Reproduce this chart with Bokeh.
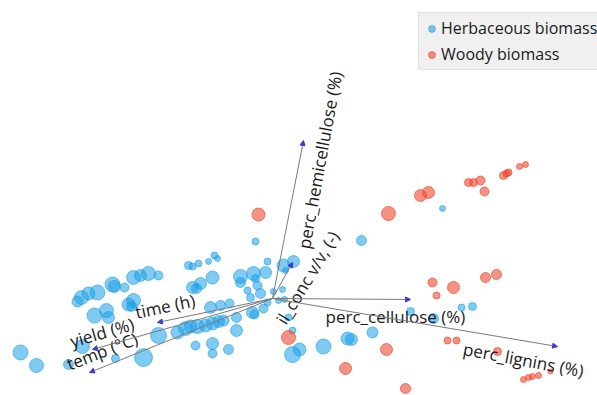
from bokeh.plotting import figure
from bokeh.models import ColumnDataSource, Range1d, Arrow, NormalHead
from bokeh.core.properties import value
from bokeh.embed import file_html
from bokeh.resources import INLINE

# ---------------- data (PCA scores) ----------------
herb_pc1 = [-12.6, -11.8, -10.2, -9.5, -7.85, -6.45, -5.7, -4.75, -4.35, -4.1, -3.75, -3.35,
            -3.0, -2.7, -2.45, -3.85, -3.0, -3.0, -2.2, -1.8, -3.1, -2.6, -2.15, -1.8, -1.0,
            -0.9, -0.45, -0.25, -1.1, -0.6, -1.25, -0.75, -1.6, -1.6, -0.95, -0.35, -0.85,
            -0.25, 0.55, 1.05, 0.65, 0.05, 0.5, 0.3, 0.6, -0.85, -4.2, -4.0, -3.7, -3.2,
            -2.9, -2.75, -4.0, -3.6, -3.8, -3.0, -9.75, -9.55, -9.2, -8.75, -8.0, -7.9, -7.4,
            -6.95, -6.6, -6.2, -5.7, -8.9, -8.3, -8.2, -7.2, -6.95, -7.05, 0.8, 1.0, 1.0,
            1.35, 2.55, 3.75, 3.95, 5.0, 4.45, 8.5, 6.9, 8.05, 9.45, 10.0]
herb_pc2 = [-2.7, -3.35, -3.3, -2.4, -3.0, -2.95, -1.85, -1.7, -1.5, -1.4, -1.4, -1.35,
            -1.25, -1.15, -1.1, -2.35, -2.25, -2.75, -2.55, -1.6, -0.45, -0.35, -0.25, -0.95,
            -0.7, -0.8, -0.5, -0.2, 0.05, 0.25, 0.4, 0.65, 1.1, 0.8, 1.25, 1.3, 1.0, 1.85,
            1.65, 1.85, 1.4, 0.35, 0.45, -0.1, -0.05, 2.85, 1.65, 1.6, 1.75, 1.85, 2.15, 2.0,
            0.55, 0.75, 0.5, 1.05, -0.15, 0.05, 0.25, 0.3, 0.7, 0.6, 0.55, 1.05, 1.15, 1.25,
            1.15, -0.85, -0.6, -0.95, -0.3, -0.1, -0.4, -0.95, -1.6, -2.8, -2.55, -2.4, -2.0,
            -2.05, -1.7, 2.9, 4.5, -0.65, -1.0, -0.45, -0.4]
herb_bubble = [15, 14, 10, 14, 8, 18, 16, 13, 14, 13, 14, 13, 13, 12, 11, 9, 12, 9, 10, 12,
               12, 10, 9, 10, 12, 9, 9, 7, 8, 10, 7, 9, 14, 10, 14, 12, 8, 7, 13, 12, 6, 6,
               6, 6, 6, 7, 8, 7, 7, 6, 7, 6, 12, 12, 10, 13, 11, 14, 13, 15, 15, 12, 9, 14,
               12, 14, 9, 15, 14, 12, 13, 14, 10, 7, 7, 16, 13, 15, 13, 12, 11, 10, 6, 8, 10,
               7, 8]

wood_pc1 = [-0.7, 5.8, 7.4, 7.8, 9.8, 10.05, 10.4, 10.6, 11.55, 11.7, 11.8, 12.35, 12.65,
            8.0, 9.05, 8.2, 10.65, 11.2, 8.75, 9.2, 11.25, 0.8, 5.7, 3.65, 6.65, 12.55, 12.8,
            13.0, 13.3, 13.9]
wood_pc2 = [4.2, 4.25, 5.15, 5.3, 5.8, 5.8, 5.9, 5.35, 6.15, 6.25, 6.3, 6.6, 6.7, 0.8, 0.55,
            0.15, 1.05, 1.2, -2.1, -2.1, -2.65, -1.95, -2.55, -3.5, -4.5, -4.05, -3.95, -3.9,
            -3.85, -3.65]
wood_bubble = [13, 14, 12, 12, 8, 8, 9, 9, 8, 7, 7, 6, 6, 9, 12, 7, 10, 10, 7, 7, 8, 14, 12,
               12, 10, 6, 6, 6, 6, 5]

var_names = ["perc_hemicellulose (%)", "il_conc v/v, (-)", "perc_cellulose (%)",
             "perc_lignins (%)", "time (h)", "yield (%)", "temp (°C)"]
load_pc1 = [1.55, 1.0, 6.9, 14.25, -5.75, -9.0, -9.15]
load_pc2 = [7.9, 1.8, -0.05, -2.4, -1.2, -2.55, -3.7]

# ---------------- layout of the loading labels ----------------
label_x = [1.55, 0.4, 2.65, 9.55, -6.85, -10.1, -10.25]
label_y = [2.5, -1.2, -0.9, -2.5, -0.7, -2.15, -3.3]
label_angle = [79.6, 59, 0, -10.5, 12, 16, 21]

p = figure(width=597, height=395, output_backend="svg", toolbar_location=None,
           x_range=Range1d(-13.6, 16.25), y_range=Range1d(-4.85, 14.9),
           x_axis_type=None, y_axis_type=None, min_border=0)
p.grid.visible = False
p.outline_line_color = None

herb = ColumnDataSource(dict(x=herb_pc1, y=herb_pc2, s=herb_bubble))
wood = ColumnDataSource(dict(x=wood_pc1, y=wood_pc2, s=wood_bubble))

p.scatter("x", "y", size="s", source=herb, fill_color="#1a9fe8", fill_alpha=0.55,
          line_color="#1a9fe8", line_alpha=0.6, legend_label="Herbaceous biomass")
p.scatter("x", "y", size="s", source=wood, fill_color="#ef4a30", fill_alpha=0.6,
          line_color="#ef4a30", line_alpha=0.7, legend_label="Woody biomass")

for lx, ly in zip(load_pc1, load_pc2):
    p.add_layout(Arrow(end=NormalHead(size=5, fill_color="#3a3ad0", line_color="#3a3ad0",
                                      line_width=1),
                       x_start=0, y_start=0, x_end=lx, y_end=ly,
                       line_color="#7a7a7a", line_width=1))

p.text(x=label_x, y=label_y, text=var_names, angle=label_angle, angle_units="deg",
       text_font=value("Open Sans"), text_font_size="17px", text_color="#1a1a1a",
       text_baseline="middle", text_align="left")

lg = p.legend[0]
lg.location = (418, 325)
lg.margin = 0
lg.padding = 4
lg.spacing = 4
lg.glyph_width = 17
lg.glyph_height = 21
lg.label_height = 21
lg.label_standoff = 1
lg.label_text_font = "Open Sans"
lg.label_text_font_size = "16px"
lg.label_text_color = "#1a1a1a"
lg.background_fill_color = "#f0f0f0"
lg.background_fill_alpha = 1.0
lg.border_line_color = "#d2d2d2"

open("out.html", "w").write(file_html(p, INLINE))
